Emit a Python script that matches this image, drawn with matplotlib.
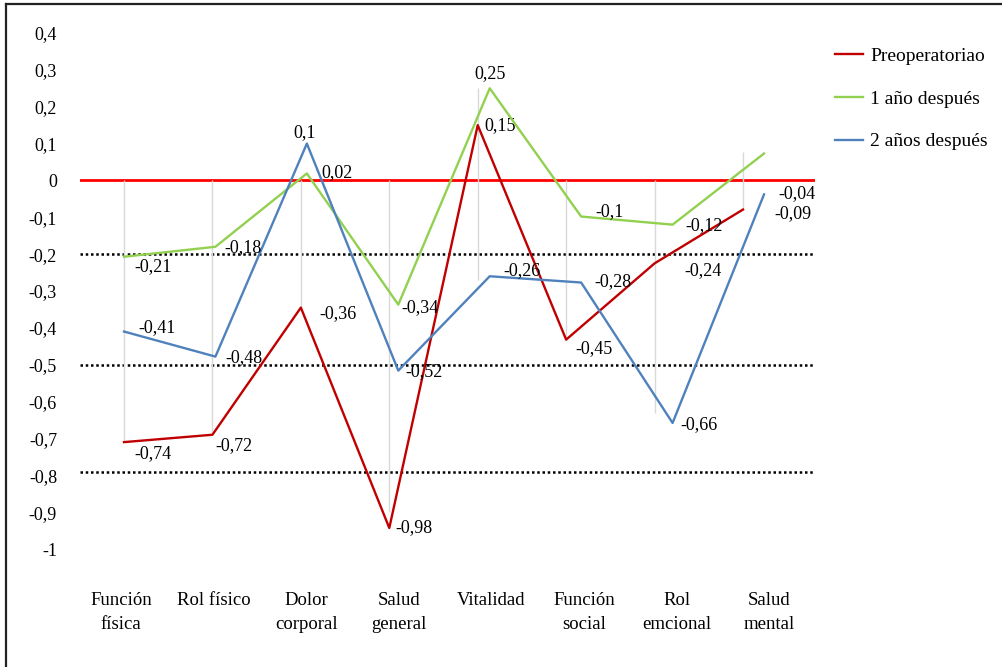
import matplotlib
matplotlib.use("Agg")
import matplotlib.pyplot as plt
from matplotlib.lines import Line2D

plt.rcParams['font.family'] = ['Liberation Serif', 'DejaVu Serif']

# ---------------- data ----------------
categories = ["Función\nfísica", "Rol físico", "Dolor\ncorporal", "Salud\ngeneral",
              "Vitalidad", "Función\nsocial", "Rol\nemcional", "Salud\nmental"]
yticks = [0.4, 0.3, 0.2, 0.1, 0, -0.1, -0.2, -0.3, -0.4, -0.5, -0.6, -0.7, -0.8, -0.9, -1]
ytick_labels = ["0,4", "0,3", "0,2", "0,1", "0", "-0,1", "-0,2", "-0,3", "-0,4", "-0,5",
                "-0,6", "-0,7", "-0,8", "-0,9", "-1"]

series_names = ["Preoperatoriao", "1 año después", "2 años después"]
pre_values = [-0.71, -0.69, -0.345, -0.943, 0.15, -0.432, -0.225, -0.079]
y1_values = [-0.207, -0.18, 0.019, -0.337, 0.25, -0.098, -0.12, 0.073]
y2_values = [-0.41, -0.478, 0.10, -0.516, -0.26, -0.277, -0.658, -0.038]

pre_labels = ["-0,74", "-0,72", "-0,36", "-0,98", "0,15", "-0,45", "-0,24", "-0,09"]
y1_labels = ["-0,21", "-0,18", "0,02", "-0,34", "0,25", "-0,1", "-0,12", ""]
y2_labels = ["-0,41", "-0,48", "0,1", "-0,52", "-0,26", "-0,28", "-0,66", "-0,04"]

reference_zero = 0
threshold_lines = [-0.2, -0.5, -0.79]

# light vertical high-low lines (top, bottom) per category
hl_top = [0, 0, 0, 0, 0.25, 0, 0, 0.076]
hl_bottom = [-0.71, -0.69, -0.345, -0.9, -0.27, -0.432, -0.63, -0.079]

# ---------------- style ----------------
W, H = 1002, 667
C_RED = "#c00000"
C_GREEN = "#92d050"
C_BLUE = "#4f81bd"

pre_off = [(29, 11), (22, 11), (37, 6), (25, 0), (22, 0), (28, 9), (48, 7), (50, 4)]
y1_off = [(29, 10), (28, 1), (30, -1), (22, 3), (0, -15), (28, -5), (31, 1), (0, 0)]
y2_off = [(33, -4), (29, 1), (-2, -11), (26, 1), (32, -6), (32, -1), (26, 2), (33, -1)]

fig = plt.figure(figsize=(W / 100, H / 100), dpi=100)
left, right, top, bottom = 80, 815, 33, 549
rect = [left / W, 1 - bottom / H, (right - left) / W, (bottom - top) / H]

ax = fig.add_axes(rect)
ax.set_ylim(-1, 0.4)
n = len(categories)
# label geometry
ax.set_xlim((left - 121) / 92.6, (right - 121) / 92.6)
ax.set_xticks(range(n))
ax.set_xticklabels(categories, fontsize=13.5, linespacing=1.5)
ax.set_yticks(yticks)
ax.set_yticklabels(ytick_labels, fontsize=13)
ax.tick_params(axis='both', length=0)
ax.tick_params(axis='y', pad=16.5)
ax.tick_params(axis='x', pad=31)
for s in ax.spines.values():
    s.set_visible(False)

# axis for preoperative series
ax_r = ax.twiny()
ax_r.set_xlim((left - 124) / 88.43, (right - 124) / 88.43)
ax_r.set_ylim(-1, 0.4)
ax_r.axis('off')

# axis for 1 and 2 year series
ax_g = ax.twiny()
ax_g.set_xlim((left - 124) / 91.43, (right - 124) / 91.43)
ax_g.set_ylim(-1, 0.4)
ax_g.axis('off')

xs = list(range(n))
ax_r.vlines(xs, hl_bottom, hl_top, color="#d9d9d9", lw=1, zorder=1)

ax.axhline(reference_zero, color="#ff0000", lw=2.0, zorder=2)
for t in threshold_lines:
    ax.axhline(t, color="black", lw=1.8, ls=(0, (1, 1.1)), zorder=2)

ax_r.plot(xs, pre_values, color=C_RED, lw=1.7, zorder=3)
ax_g.plot(xs, y1_values, color=C_GREEN, lw=1.7, zorder=3)
ax_g.plot(xs, y2_values, color=C_BLUE, lw=1.7, zorder=3)

def add_labels(a, vals, labs, offs):
    for i, (v, lab, o) in enumerate(zip(vals, labs, offs)):
        if not lab:
            continue
        a.annotate(lab, (i, v), xytext=(o[0] * 0.72, -o[1] * 0.72),
                   textcoords='offset points', ha='center', va='center',
                   fontsize=13, color='black', zorder=5)

add_labels(ax_r, pre_values, pre_labels, pre_off)
add_labels(ax_g, y1_values, y1_labels, y1_off)
add_labels(ax_g, y2_values, y2_labels, y2_off)

handles = [Line2D([], [], color=C_RED, lw=1.7),
           Line2D([], [], color=C_GREEN, lw=1.7),
           Line2D([], [], color=C_BLUE, lw=1.7)]
fig.legend(handles, series_names, loc='upper left',
           bbox_to_anchor=(835 / W, 1 - 47 / H), bbox_transform=fig.transFigure,
           frameon=False, fontsize=14, handlelength=1.45, handletextpad=0.35,
           labelspacing=1.3, borderpad=0, borderaxespad=0)

# outer border (left and top)
fig.add_artist(Line2D([6 / W, 6 / W], [0, 1 - 4 / H], transform=fig.transFigure,
                      color="#222222", lw=1.6))
fig.add_artist(Line2D([6 / W, 1], [1 - 4 / H, 1 - 4 / H], transform=fig.transFigure,
                      color="#222222", lw=1.6))

fig.savefig("out.png", dpi=100)
